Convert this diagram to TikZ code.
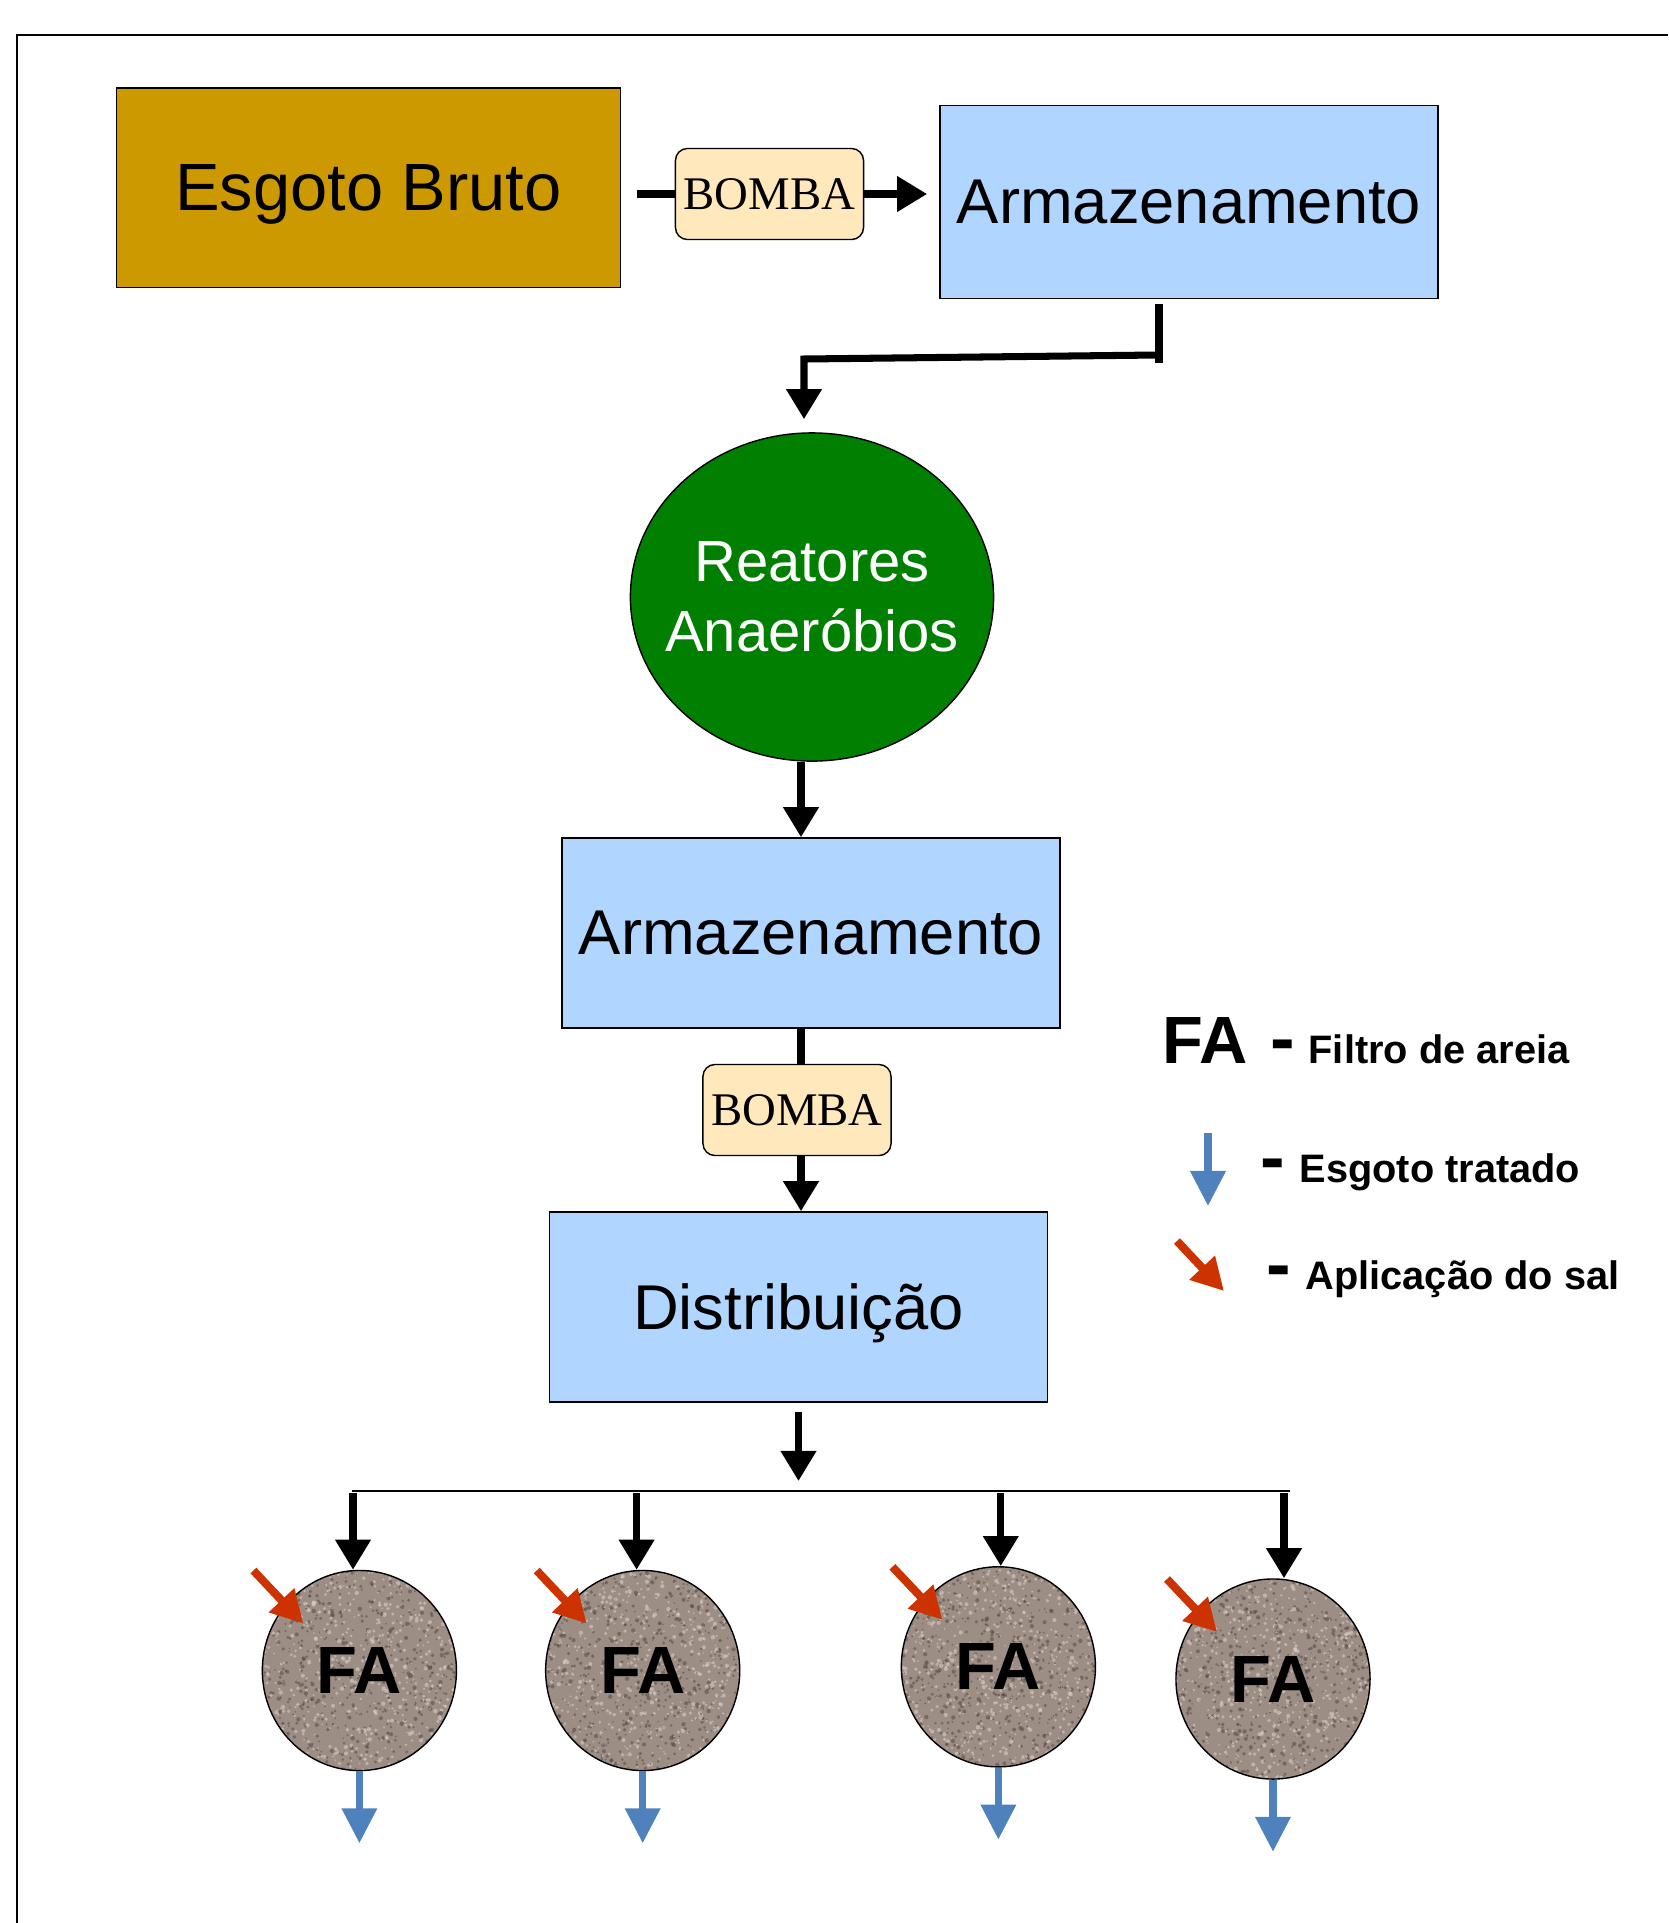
\documentclass[tikz,border=0pt]{standalone}
\usepackage{fontspec}
\setmainfont{Liberation Sans}
\newfontfamily\bombafont{Liberation Serif}
\usetikzlibrary{arrows.meta,calc,shapes.geometric}
\definecolor{esgoto}{HTML}{CC9900}
\definecolor{tanque}{HTML}{B0D5FF}
\definecolor{reator}{HTML}{007F00}
\definecolor{bombacor}{HTML}{FFE8BB}
\definecolor{vermelho}{HTML}{CC3300}
\definecolor{azul}{HTML}{4F81BD}
\definecolor{areia}{HTML}{9C8D85}
\definecolor{areiaesc}{HTML}{51453F}
\definecolor{areiacla}{HTML}{DDD3CC}

\begin{document}
\begin{tikzpicture}[x=0.01cm,y=-0.01cm,>={Triangle[length=3mm,width=3.4mm]},
  every node/.style={inner sep=0pt},
  tank/.style={draw,fill=tanque,minimum width=4.98cm,minimum height=1.9cm,text depth=0pt,font=\fontsize{18}{22}\selectfont},
  pump/.style={draw,fill=bombacor,rounded corners=0.12cm,minimum width=1.88cm,minimum height=0.91cm,font=\bombafont\fontsize{13.3}{16}\selectfont},
  pipe/.style={line width=2pt},
  filtro/.style={draw,ellipse,minimum width=1.94cm,minimum height=2.0cm,fill=areia,
    font=\fontsize{19}{22}\selectfont\bfseries,
    path picture={\foreach \k in {1,...,650}{
      \pgfmathsetmacro\px{rand}\pgfmathsetmacro\py{rand}\pgfmathsetmacro\pr{0.008+0.014*rnd}
      \fill[areiaesc,opacity=.5] ($(path picture bounding box.center)+(\px*1cm,\py*1cm)$) circle[radius=\pr cm];
      \pgfmathsetmacro\px{rand}\pgfmathsetmacro\py{rand}
      \fill[areiacla,opacity=.55] ($(path picture bounding box.center)+(\px*1cm,\py*1cm)$) circle[radius=\pr cm];}}},
  saida/.style={azul,line width=2pt,->,>={Triangle[length=3.5mm,width=3.4mm]}},
  salarrow/.style={vermelho,line width=2.3pt,->,>={Triangle[length=3.2mm,width=3.3mm]}},
  legtxt/.style={anchor=base west,font=\fontsize{11.3}{14}\selectfont\bfseries},
  traco/.style={anchor=base west,font=\fontsize{21}{24}\selectfont\bfseries}]
\pgfmathsetseed{4}
\useasboundingbox (0,0) rectangle (1668,1923);
\draw[line width=0.6pt] (17,1923) -- (17,35) -- (1668,35);

\node[draw,fill=esgoto,minimum width=5.04cm,minimum height=1.99cm,text depth=0pt,font=\fontsize{19}{23}\selectfont] (esg) at (368.5,187.7) {Esgoto Bruto};
\node[pump] (b1) at (769.5,194) {BOMBA};
\node[tank,minimum height=1.93cm] (arm1) at (1189,202) {Armazenamento};
\node[draw,ellipse,fill=reator,text=white,inner xsep=-0.19cm,minimum width=3.63cm,minimum height=3.28cm,align=center,
  font=\fontsize{16.5}{19.8}\selectfont] (reat) at (812,597) {Reatores\\ Anaeróbios};
\node[tank] (arm2) at (811,933) {Armazenamento};
\node[pump] (b2) at (797,1110) {BOMBA};
\node[tank] (dist) at (798.5,1307) {Distribuição};

\draw[pipe,shorten <=0.16cm] (esg.east |- b1.west) -- (b1.west);
\draw[pipe,->,shorten >=0.12cm] (b1.east) -- (b1.east -| arm1.west);
\coordinate (k0) at (1159,363);
\coordinate (k1) at (1157,355);
\coordinate (k2) at (804,359);
\draw[pipe,shorten <=0.05cm] (arm1.south -| k0) -- (k0);
\draw[pipe,->,shorten >=0.13cm] (k1) -- (k2) -- (k2 |- reat.north);
\coordinate (eixo) at (801,0);
\draw[pipe,->] (reat.south -| eixo) -- (arm2.north -| eixo);
\draw[pipe] (arm2.south -| eixo) -- (b2.north -| eixo);
\draw[pipe,->] (b2.south -| eixo) -- (dist.north -| eixo);
\coordinate (sp) at (798.5,1491);
\draw[pipe,->,shorten <=0.09cm,shorten >=0.1cm] (dist.south -| sp) -- (sp);
\coordinate (r0) at (352,1491);
\coordinate (r1) at (1290,1491);
\draw[line width=0.6pt] (r0) -- (r1);

\foreach \n/\x/\y/\t in {1/359.4/1670.5/353,2/642.7/1670.5/636.6,3/998.4/1666.8/1000.8,4/1273/1679/1284}{
  \node[filtro] (fa\n) at (\x,\y) {FA};
  \coordinate (t\n) at (\t,1493);
  \draw[pipe,->] (t\n) -- (t\n |- fa\n.north);
  \draw[saida] (fa\n.south) -- ++(0,72);
  \draw[salarrow] ($(fa\n)+(-106,-100)$) -- ($(fa\n)+(-56,-47)$);
}

\node[anchor=base west,font=\fontsize{19}{22}\selectfont\bfseries] (legfa) at (1162,1063) {FA};
\node[traco] (d1) at (1270,1063) {-};
\node[legtxt] (leg1) at (1308,1063) {Filtro de areia};
\coordinate (la1) at (1208,1133);
\coordinate (la2) at (1208,1206);
\draw[saida] (la1) -- (la2);
\node[traco] (d2) at (1260,1182) {-};
\node[legtxt] (leg2) at (1299,1182) {Esgoto tratado};
\coordinate (lb1) at (1177,1241);
\coordinate (lb2) at (1224,1291);
\draw[salarrow] (lb1) -- (lb2);
\node[traco] (d3) at (1266,1289) {-};
\node[legtxt] (leg3) at (1305,1289) {Aplicação do sal};
\end{tikzpicture}
\end{document}
